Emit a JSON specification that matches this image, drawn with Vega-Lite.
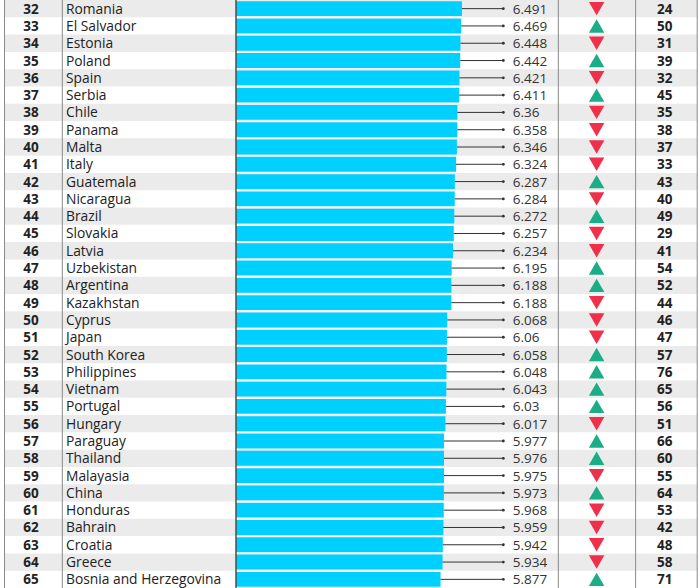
{
  "$schema": "https://vega.github.io/schema/vega-lite/v6.json",
  "width": 700,
  "height": 588,
  "padding": 0,
  "autosize": {"type": "none"},
  "background": "#ffffff",
  "config": {"view": {"stroke": null}, "font": "Open Sans"},
  "data": {"values": [
    {"rank": 32, "country": "Romania", "score": 6.491, "trend": "down", "prev": 24},
    {"rank": 33, "country": "El Salvador", "score": 6.469, "trend": "up", "prev": 50},
    {"rank": 34, "country": "Estonia", "score": 6.448, "trend": "down", "prev": 31},
    {"rank": 35, "country": "Poland", "score": 6.442, "trend": "up", "prev": 39},
    {"rank": 36, "country": "Spain", "score": 6.421, "trend": "down", "prev": 32},
    {"rank": 37, "country": "Serbia", "score": 6.411, "trend": "up", "prev": 45},
    {"rank": 38, "country": "Chile", "score": 6.36, "trend": "down", "prev": 35},
    {"rank": 39, "country": "Panama", "score": 6.358, "trend": "down", "prev": 38},
    {"rank": 40, "country": "Malta", "score": 6.346, "trend": "down", "prev": 37},
    {"rank": 41, "country": "Italy", "score": 6.324, "trend": "down", "prev": 33},
    {"rank": 42, "country": "Guatemala", "score": 6.287, "trend": "up", "prev": 43},
    {"rank": 43, "country": "Nicaragua", "score": 6.284, "trend": "down", "prev": 40},
    {"rank": 44, "country": "Brazil", "score": 6.272, "trend": "up", "prev": 49},
    {"rank": 45, "country": "Slovakia", "score": 6.257, "trend": "down", "prev": 29},
    {"rank": 46, "country": "Latvia", "score": 6.234, "trend": "down", "prev": 41},
    {"rank": 47, "country": "Uzbekistan", "score": 6.195, "trend": "up", "prev": 54},
    {"rank": 48, "country": "Argentina", "score": 6.188, "trend": "up", "prev": 52},
    {"rank": 49, "country": "Kazakhstan", "score": 6.188, "trend": "down", "prev": 44},
    {"rank": 50, "country": "Cyprus", "score": 6.068, "trend": "down", "prev": 46},
    {"rank": 51, "country": "Japan", "score": 6.06, "trend": "down", "prev": 47},
    {"rank": 52, "country": "South Korea", "score": 6.058, "trend": "up", "prev": 57},
    {"rank": 53, "country": "Philippines", "score": 6.048, "trend": "up", "prev": 76},
    {"rank": 54, "country": "Vietnam", "score": 6.043, "trend": "up", "prev": 65},
    {"rank": 55, "country": "Portugal", "score": 6.03, "trend": "up", "prev": 56},
    {"rank": 56, "country": "Hungary", "score": 6.017, "trend": "down", "prev": 51},
    {"rank": 57, "country": "Paraguay", "score": 5.977, "trend": "up", "prev": 66},
    {"rank": 58, "country": "Thailand", "score": 5.976, "trend": "up", "prev": 60},
    {"rank": 59, "country": "Malayasia", "score": 5.975, "trend": "down", "prev": 55},
    {"rank": 60, "country": "China", "score": 5.973, "trend": "up", "prev": 64},
    {"rank": 61, "country": "Honduras", "score": 5.968, "trend": "down", "prev": 53},
    {"rank": 62, "country": "Bahrain", "score": 5.959, "trend": "down", "prev": 42},
    {"rank": 63, "country": "Croatia", "score": 5.942, "trend": "down", "prev": 48},
    {"rank": 64, "country": "Greece", "score": 5.934, "trend": "down", "prev": 58},
    {"rank": 65, "country": "Bosnia and Herzegovina", "score": 5.877, "trend": "up", "prev": 71}
  ]},
  "encoding": {
    "y": {"field": "rank", "type": "ordinal", "sort": "ascending", "axis": null,
          "scale": {"paddingInner": 0, "paddingOuter": 0}}
  },
  "layer": [
    {
      "transform": [{"filter": "datum.rank % 2 == 0"}],
      "mark": {"type": "rect", "color": "#ebebeb"},
      "encoding": {
        "x": {"datum": -6.65, "type": "quantitative", "scale": {"domain": [-6.78, 13.33], "nice": false, "zero": false}, "axis": null},
        "x2": {"datum": 13.25}
      }
    },
    {
      "mark": {"type": "bar", "color": "#00d0ff", "height": {"band": 0.86}},
      "encoding": {"x": {"field": "score", "type": "quantitative"}, "x2": {"datum": 0}}
    },
    {
      "mark": {"type": "rule", "color": "#333333", "strokeWidth": 1},
      "encoding": {"x": {"field": "score", "type": "quantitative"}, "x2": {"datum": 7.68}}
    },
    {
      "mark": {"type": "point", "filled": true, "color": "#333333", "size": 8, "opacity": 1},
      "encoding": {"x": {"datum": 7.68}}
    },
    {
      "mark": {"type": "text", "align": "left", "baseline": "middle", "dy": 1, "fontSize": 13.5, "color": "#333333"},
      "encoding": {"x": {"datum": 7.95}, "text": {"field": "score", "type": "nominal"}}
    },
    {
      "mark": {"type": "point", "filled": true, "size": 240, "opacity": 1},
      "encoding": {
        "x": {"datum": 10.36},
        "shape": {"field": "trend", "type": "nominal", "scale": {"domain": ["up", "down"], "range": ["triangle-up", "triangle-down"]}, "legend": null},
        "color": {"field": "trend", "type": "nominal", "scale": {"domain": ["up", "down"], "range": ["#1bae86", "#f0304a"]}, "legend": null}
      }
    },
    {
      "mark": {"type": "text", "align": "center", "baseline": "middle", "dy": 1, "fontSize": 13.5, "fontWeight": "bold", "color": "#222222"},
      "encoding": {"x": {"datum": -5.89}, "text": {"field": "rank", "type": "nominal"}}
    },
    {
      "mark": {"type": "text", "align": "left", "baseline": "middle", "dy": 1, "fontSize": 13.8, "color": "#222222"},
      "encoding": {"x": {"datum": -4.884}, "text": {"field": "country", "type": "nominal"}}
    },
    {
      "mark": {"type": "text", "align": "center", "baseline": "middle", "dy": 1, "fontSize": 13.5, "fontWeight": "bold", "color": "#222222"},
      "encoding": {"x": {"datum": 12.32}, "text": {"field": "prev", "type": "nominal"}}
    },
    {
      "data": {"values": [{}]},
      "mark": {"type": "rule", "color": "#8a8a8a", "strokeWidth": 1},
      "encoding": {"x": {"datum": -6.65}, "y": null}
    },
    {
      "data": {"values": [{}]},
      "mark": {"type": "rule", "color": "#8a8a8a", "strokeWidth": 1},
      "encoding": {"x": {"datum": -4.99}, "y": null}
    },
    {
      "data": {"values": [{}]},
      "mark": {"type": "rule", "color": "#4d4d4d", "strokeWidth": 1.5},
      "encoding": {"x": {"datum": 0}, "y": null}
    },
    {
      "data": {"values": [{}]},
      "mark": {"type": "rule", "color": "#8a8a8a", "strokeWidth": 1},
      "encoding": {"x": {"datum": 9.26}, "y": null}
    },
    {
      "data": {"values": [{}]},
      "mark": {"type": "rule", "color": "#8a8a8a", "strokeWidth": 1},
      "encoding": {"x": {"datum": 11.48}, "y": null}
    },
    {
      "data": {"values": [{}]},
      "mark": {"type": "rule", "color": "#8a8a8a", "strokeWidth": 1},
      "encoding": {"x": {"datum": 13.25}, "y": null}
    }
  ]
}
